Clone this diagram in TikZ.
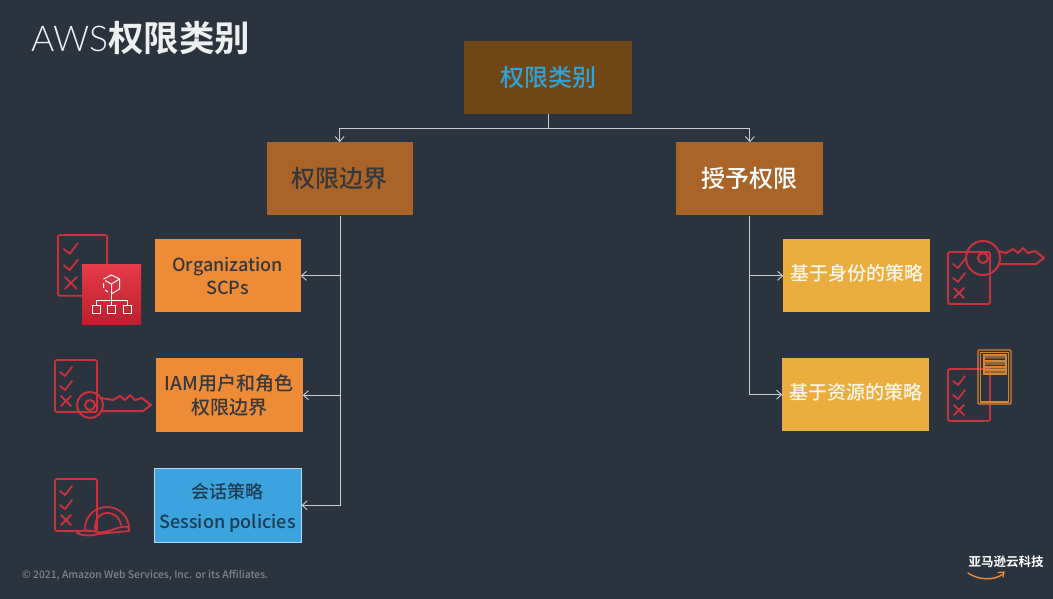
\documentclass[tikz,border=0pt]{standalone}
\usepackage{fontspec}
\setmainfont[BoldFont={Noto Sans CJK SC Bold}]{Noto Sans CJK SC Medium}
\newfontfamily\lightfont{Lato Light}
\usetikzlibrary{positioning,arrows.meta}

\definecolor{slidebg}{HTML}{2B333E}
\definecolor{rootfill}{HTML}{6F4716}
\definecolor{rootblue}{HTML}{2FA3DA}
\definecolor{catfill}{HTML}{AB6427}
\definecolor{orgfill}{HTML}{EE8B37}
\definecolor{sesfill}{HTML}{3DA3DE}
\definecolor{sestext}{HTML}{1C3C55}
\definecolor{polfill}{HTML}{EBAD3D}
\definecolor{linkgray}{HTML}{C6CDD6}
\definecolor{darktext}{HTML}{35383D}
\definecolor{iconred}{HTML}{C9313D}
\definecolor{icontop}{HTML}{E63B4B}
\definecolor{iconlow}{HTML}{BD1F2D}
\definecolor{iconorange}{HTML}{D9842F}

\tikzset{
  box/.style={inner sep=0pt, align=center, minimum height=73pt},
  catbox/.style={box, fill=catfill, minimum width=146pt, font=\fontsize{24}{28}\selectfont},
  leafbox/.style={box, fill=orgfill, minimum width=146pt, text=darktext, font=\fontsize{18}{23}\selectfont},
  polbox/.style={box, fill=polfill, minimum width=147pt, text=white!90!polfill, text depth=6pt, font=\fontsize{19}{23}\selectfont},
  link/.style={draw=linkgray, line width=0.9pt},
  linkarrow/.style={link, -{Straight Barb[length=5pt,width=9pt]}},
  iconline/.style={draw=iconred, line width=1.8pt, line cap=round, line join=round},
  pics/checklist/.style={code={
    \draw[iconline, rounded corners=1.5pt] (0,0) rectangle (42,52);
    \draw[iconline] (5,12) -- (10,16) -- (17,7);
    \draw[iconline] (5,26) -- (10,30) -- (17,21);
    \draw[iconline] (6,36) -- (16,46) (16,36) -- (6,46);
  }},
  pics/keyicon/.style={code={
    \draw[iconline, line width=2pt] (0,0) circle (#1);
    \draw[iconline, line width=2pt] (0,0) circle (5);
    \draw[iconline, line width=2pt] (#1-2,-7) -- (23,-5) -- (30,-9) -- (35,-5) -- (40,-10)
      -- (45,-5) -- (52,-7) -- (61,0) -- (53,6) -- (#1-1,6);
  }},
}

\begin{document}
\begin{tikzpicture}[x=1pt,y=-1pt]
  \useasboundingbox (0,0) rectangle (1053,599);
  \fill[slidebg] (0,0) rectangle (1053,599);

  \node[anchor=west, inner sep=0pt, text=white!92!slidebg] (title) at (31,38)
    {\fontsize{35.5}{40}\selectfont{\lightfont AWS}\textbf{权限类别}};

  % tree boxes
  \node[box, fill=rootfill, minimum width=168pt, text=rootblue, font=\fontsize{24}{28}\selectfont] (root) at (548,77.5) {权限类别};
  \node[catbox, below left=28pt and 51pt of root, text=darktext] (bound) {权限边界};
  \node[catbox, below right=28pt and 44pt of root, minimum width=147pt, text=white] (grant) {授予权限};

  \node[leafbox, below left=23.5pt and 112pt of bound.south east] (org) {Organization\\SCPs};
  \node[leafbox, below=45.5pt of org, xshift=1.5pt, minimum width=147pt, minimum height=74pt,
        font=\fontsize{19}{23.5}\selectfont] (iam) {IAM用户和角色\\权限边界};
  \node[leafbox, below=35.5pt of iam, xshift=-1.5pt, fill=sesfill, draw=white!60!sesfill, line width=0.8pt,
        minimum width=147pt, minimum height=74pt, text=sestext, text height=50pt] (ses)
        {会话策略\\[7pt]Session policies};

  \node[polbox, below right=23.5pt and 107pt of grant.south west] (ident) {基于身份的策略};
  \node[polbox, below=45.5pt of ident, xshift=-1pt] (res) {基于资源的策略};

  % connectors
  \draw[link] (root.south) -- ++(0,14) coordinate (split);
  \draw[linkarrow] (split) -| (bound.north);
  \draw[linkarrow] (split) -| (grant.north);

  \coordinate[right=1pt of bound.south] (trunk);
  \draw[linkarrow] (trunk) |- (ses.east);
  \draw[linkarrow] (trunk |- org.east) -- (org.east);
  \draw[linkarrow] (trunk |- iam.east) -- (iam.east);

  \draw[linkarrow] (grant.south) |- (ident.west);
  \draw[linkarrow] (grant.south) |- (res.west);

  % organization icon
  \pic[scale=1.17] at (58,235) {checklist};
  \fill[top color=icontop, bottom color=iconlow, shading angle=0] (82,264) rectangle (141,324);
  \begin{scope}[draw=white, line width=1pt]
    \draw (103.5,279) -- (111.5,275) -- (119.5,279) -- (119.5,289) -- (111.5,294) -- (111.5,284) -- (119.5,279);
    \draw (111.5,284) -- (105,280.5);
    \draw (103.5,283) -- (103.5,288) (105,290) -- (108,292);
    \draw (111.5,294) -- (111.5,300) (96.5,305) -- (96.5,300) -- (127,300) -- (127,305) (111.5,300) -- (111.5,305);
    \draw (92.5,305) rectangle +(8,8) (107.5,305) rectangle +(8,8) (123,305) rectangle +(8,8);
  \end{scope}

  % iam icon
  \pic at (55,360) {checklist};
  \pic at (90,405) {keyicon=13};

  % session icon
  \pic at (55,479) {checklist};
  \draw[iconline] (85,529) .. controls (85,516) and (95,507) .. (107,507)
    .. controls (119,507) and (129,516) .. (129,529);
  \draw[iconline] (95,529) .. controls (95,518) and (100,513) .. (107,513)
    .. controls (115,513) and (120,518) .. (121,525);
  \draw[iconline] (77,533) .. controls (82,529) and (90,530) .. (97,532) .. controls (104,534) and (115,528) .. (122,527)
    .. controls (126,526) and (129,527) .. (129,529) -- (129,531) -- (98,534) .. controls (92,536) and (82,536) .. (77,533);

  % identity policy icon
  \pic at (948,252) {checklist};
  \pic at (983,258) {keyicon=17};

  % resource policy icon
  \pic at (948,369) {checklist};
  \begin{scope}[draw=iconorange, line width=1.2pt]
    \draw[rounded corners=1pt] (978,350) rectangle (1011,404);
    \draw (980.5,352.5) rectangle (1008.5,402);
    \draw (984,355) rectangle (1006,374);
    \draw (984,361) -- (1006,361) (984,367) -- (1006,367) (984,370) -- (1006,370);
  \end{scope}
  \fill[iconorange, fill opacity=0.6] (984,356) rectangle (1006,358.5) (984,362) rectangle (1006,365) (984,368) rectangle (1006,369.5) (984,371) rectangle (1006,373.5);

  % footer
  \node[anchor=west, inner sep=0pt, text=white!40!slidebg, font=\fontsize{10.3}{12}\selectfont] (copy) at (22,575)
    {© 2021, Amazon Web Services, Inc. or its Affiliates.};
  \node[anchor=center, inner sep=0pt, text=white, font=\fontsize{12.5}{14}\selectfont\bfseries] (logo) at (1006,562) {亚马逊云科技};
  \draw[draw=orgfill, line width=1.4pt, line cap=round] (968,573) .. controls (978,580) and (994,581) .. (1003,574);
  \draw[draw=orgfill, line width=1.2pt, line cap=round] (998,572.5) -- (1004,572) -- (1003,577);
\end{tikzpicture}
\end{document}
